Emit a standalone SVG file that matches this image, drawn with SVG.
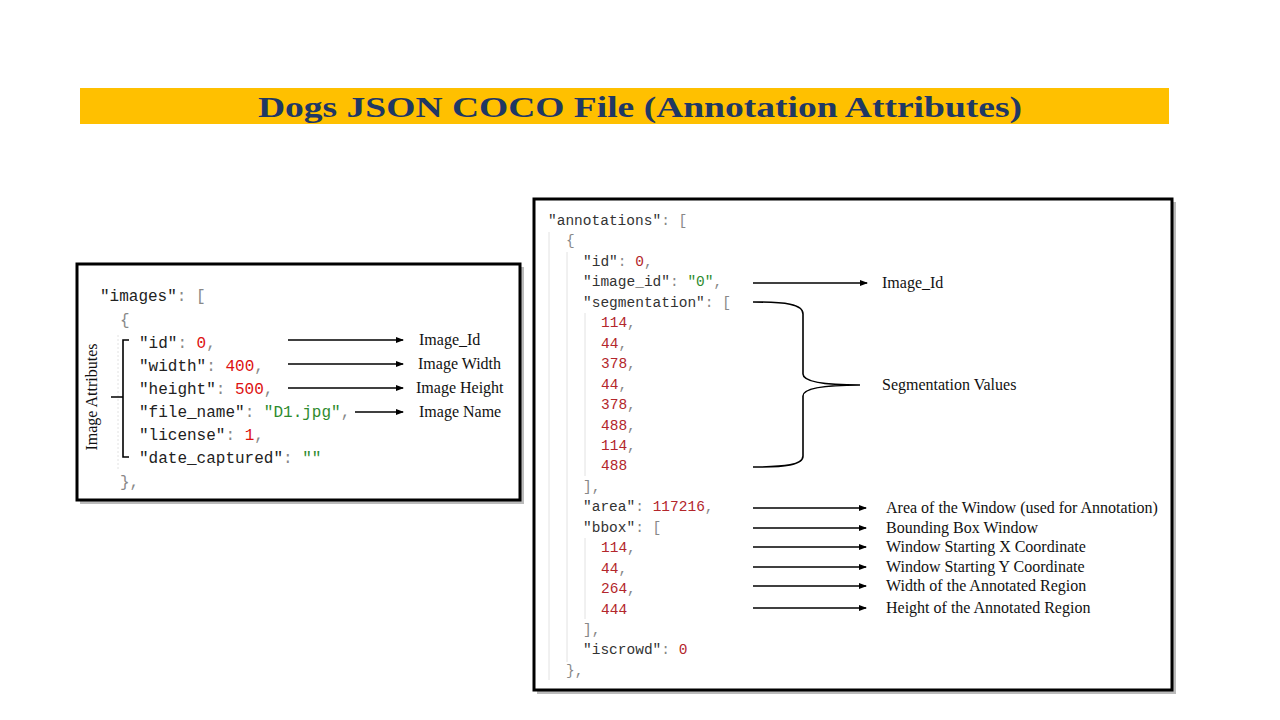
<svg xmlns="http://www.w3.org/2000/svg" width="1280" height="720" viewBox="0 0 1280 720">
<defs>
<marker id="ah" markerWidth="8" markerHeight="6" refX="7" refY="3" orient="auto" markerUnits="userSpaceOnUse">
<path d="M0,0 L8,3 L0,6 Z" fill="#000"/>
</marker>
<style>
.code{font-family:"Liberation Mono","DejaVu Sans Mono",monospace;fill:#333}
.l{font-size:16px;fill:#222}
.r{font-size:14.5px}
.p{fill:#888}
.n{fill:#d11}
.nr{fill:#b3262b}
.s{fill:#2e8b2e}
.lbl{font-family:"Liberation Serif","DejaVu Serif",serif;font-size:16px;fill:#111}
.arr{stroke:#000;stroke-width:1.6;fill:none;marker-end:url(#ah)}
.br{stroke:#000;stroke-width:1.6;fill:none}
.guide{stroke:#e2e2e2;stroke-width:1}
.box{fill:#fff;stroke:#000;stroke-width:3}
</style>
</defs>
<rect width="1280" height="720" fill="#fff"/>
<g id="title">
<rect x="80" y="88" width="1089" height="36" fill="#FFC000"/>
<text x="640" y="117" text-anchor="middle" font-family="Liberation Serif,DejaVu Serif,serif" font-weight="bold" font-size="30" fill="#1F3864" textLength="764" lengthAdjust="spacingAndGlyphs">Dogs JSON COCO File (Annotation Attributes)</text>
</g>
<g id="images-box">
<rect x="80" y="267" width="444" height="237" fill="#bbb"/>
<rect x="77" y="264" width="443" height="236" class="box"/>
<line x1="118" y1="335" x2="118" y2="470" class="guide" stroke-dasharray="2,2"/>
<text class="code l" x="100" y="301">"images"<tspan class="p">: [</tspan></text>
<text class="code l p" x="120" y="325">{</text>
<text class="code l" x="139" y="348">"id"<tspan class="p">: </tspan><tspan class="n">0</tspan><tspan class="p">,</tspan></text>
<text class="code l" x="139" y="371">"width"<tspan class="p">: </tspan><tspan class="n">400</tspan><tspan class="p">,</tspan></text>
<text class="code l" x="139" y="394">"height"<tspan class="p">: </tspan><tspan class="n">500</tspan><tspan class="p">,</tspan></text>
<text class="code l" x="139" y="417">"file_name"<tspan class="p">: </tspan><tspan class="s">"D1.jpg"</tspan><tspan class="p">,</tspan></text>
<text class="code l" x="139" y="440">"license"<tspan class="p">: </tspan><tspan class="n">1</tspan><tspan class="p">,</tspan></text>
<text class="code l" x="139" y="463">"date_captured"<tspan class="p">: </tspan><tspan class="s">""</tspan></text>
<text class="code l p" x="120" y="487">},</text>
</g>
<g id="image-attributes">
<path class="br" d="M129,340 H123 V457 H129 M123,397 H111"/>
<text class="lbl" transform="translate(97,397) rotate(-90)" text-anchor="middle" font-size="16">Image Attributes</text>
</g>
<g id="annotations-box">
<rect x="537" y="202" width="639" height="492" fill="#bbb"/>
<rect x="534" y="199" width="638" height="491" class="box"/>
<line x1="549" y1="232" x2="549" y2="680" class="guide"/>
<line x1="567" y1="252" x2="567" y2="662" class="guide"/>
<line x1="585" y1="313" x2="585" y2="476" class="guide"/>
<line x1="585" y1="538" x2="585" y2="619" class="guide"/>
<text class="code r" x="548" y="225">"annotations"<tspan class="p">: [</tspan></text>
<text class="code r p" x="566" y="245">{</text>
<text class="code r" x="583" y="266">"id"<tspan class="p">: </tspan><tspan class="nr">0</tspan><tspan class="p">,</tspan></text>
<text class="code r" x="583" y="286">"image_id"<tspan class="p">: </tspan><tspan class="s">"0"</tspan><tspan class="p">,</tspan></text>
<text class="code r" x="583" y="307">"segmentation"<tspan class="p">: [</tspan></text>
<text class="code r nr" x="601" y="327">114<tspan class="p">,</tspan></text>
<text class="code r nr" x="601" y="348">44<tspan class="p">,</tspan></text>
<text class="code r nr" x="601" y="368">378<tspan class="p">,</tspan></text>
<text class="code r nr" x="601" y="389">44<tspan class="p">,</tspan></text>
<text class="code r nr" x="601" y="409">378<tspan class="p">,</tspan></text>
<text class="code r nr" x="601" y="430">488<tspan class="p">,</tspan></text>
<text class="code r nr" x="601" y="450">114<tspan class="p">,</tspan></text>
<text class="code r nr" x="601" y="470">488</text>
<text class="code r p" x="583" y="491">],</text>
<text class="code r" x="583" y="511">"area"<tspan class="p">: </tspan><tspan class="nr">117216</tspan><tspan class="p">,</tspan></text>
<text class="code r" x="583" y="532">"bbox"<tspan class="p">: [</tspan></text>
<text class="code r nr" x="601" y="552">114<tspan class="p">,</tspan></text>
<text class="code r nr" x="601" y="573">44<tspan class="p">,</tspan></text>
<text class="code r nr" x="601" y="593">264<tspan class="p">,</tspan></text>
<text class="code r nr" x="601" y="614">444</text>
<text class="code r p" x="583" y="634">],</text>
<text class="code r" x="583" y="654">"iscrowd"<tspan class="p">: </tspan><tspan class="nr">0</tspan></text>
<text class="code r p" x="566" y="675">},</text>
</g>
<g id="connectors">
<line class="arr" x1="288" y1="340" x2="403" y2="340"/>
<line class="arr" x1="288" y1="364" x2="403" y2="364"/>
<line class="arr" x1="288" y1="388" x2="403" y2="388"/>
<line class="arr" x1="355" y1="412" x2="403" y2="412"/>
<line class="arr" x1="753" y1="283" x2="867" y2="283"/>
<path class="br" d="M753,302 C785,302 803,304 803,314 V374 C803,383 830,385 860,385 C830,385 803,387 803,396 V456 C803,465 785,467 753,467"/>
<line class="arr" x1="753" y1="508" x2="866" y2="508"/>
<line class="arr" x1="753" y1="528" x2="866" y2="528"/>
<line class="arr" x1="753" y1="547" x2="866" y2="547"/>
<line class="arr" x1="753" y1="567" x2="866" y2="567"/>
<line class="arr" x1="753" y1="586" x2="866" y2="586"/>
<line class="arr" x1="753" y1="608" x2="866" y2="608"/>
</g>
<g id="labels">
<text class="lbl" x="419" y="345">Image_Id</text>
<text class="lbl" x="418" y="369">Image Width</text>
<text class="lbl" x="416" y="393">Image Height</text>
<text class="lbl" x="419" y="417">Image Name</text>
<text class="lbl" x="882" y="288">Image_Id</text>
<text class="lbl" x="882" y="390">Segmentation Values</text>
<text class="lbl" x="886" y="513">Area of the Window (used for Annotation)</text>
<text class="lbl" x="886" y="533">Bounding Box Window</text>
<text class="lbl" x="886" y="552">Window Starting X Coordinate</text>
<text class="lbl" x="886" y="572">Window Starting Y Coordinate</text>
<text class="lbl" x="886" y="591">Width of the Annotated Region</text>
<text class="lbl" x="886" y="613">Height of the Annotated Region</text>
</g>
</svg>
